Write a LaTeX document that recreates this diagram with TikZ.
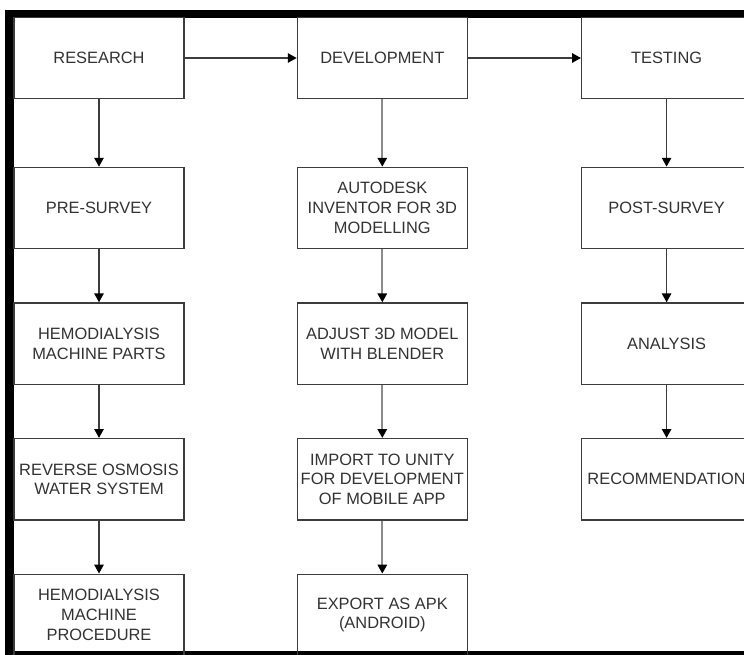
\documentclass[tikz,border=0pt]{standalone}
\usepackage{fontspec}
\setmainfont{Liberation Sans}
\usepackage{xcolor}
\usetikzlibrary{arrows.meta,positioning}
\definecolor{boxline}{RGB}{60, 60, 60}
\definecolor{textgray}{RGB}{50, 50, 50}
\definecolor{arrowgray}{RGB}{140, 140, 140}

\tikzset{
  stagebox/.style={draw=boxline,line width=1.1pt,minimum width=5.1cm,minimum height=2.44cm,
    inner sep=1pt,align=center,text=textgray,font=\fontsize{14}{16.8}\selectfont},
  flowarrow/.style={draw=boxline,line width=1.1pt,-{Triangle[width=8pt,length=7.5pt,color=black]}},
  softarrow/.style={flowarrow,draw=arrowgray,line width=1.5pt}
}

\begin{document}
\begin{tikzpicture}[x=0.03cm,y=-0.03cm]
    \useasboundingbox (0,0) rectangle (744,655);
    % outer frame
    \fill[black] (5,10) rectangle (744,18);
    \fill[black] (5,10) rectangle (14,655);
    \fill[black] (5,651) rectangle (744,655);

    % top row
    \node[stagebox] (research) at (99,58) {RESEARCH};
    \node[stagebox,right=3.36cm of research] (develop) {DEVELOPMENT};
    \node[stagebox,right=3.39cm of develop] (testing) {TESTING};

    % research column
    \node[stagebox,below=2.02cm of research] (presurvey) {PRE-SURVEY};
    \node[stagebox,below=1.59cm of presurvey] (parts) {HEMODIALYSIS\\MACHINE PARTS};
    \node[stagebox,below=1.59cm of parts] (osmosis) {REVERSE OSMOSIS\\WATER SYSTEM};
    \node[stagebox,below=1.59cm of osmosis] (procedure) {HEMODIALYSIS\\MACHINE\\PROCEDURE};

    % development column
    \node[stagebox,below=2.02cm of develop] (autodesk) {AUTODESK\\INVENTOR FOR 3D\\MODELLING};
    \node[stagebox,below=1.59cm of autodesk] (blender) {ADJUST 3D MODEL\\WITH BLENDER};
    \node[stagebox,below=1.59cm of blender] (unity) {IMPORT TO UNITY\\FOR DEVELOPMENT\\OF MOBILE APP};
    \node[stagebox,below=1.59cm of unity] (apk) {EXPORT AS APK\\(ANDROID)};

    % testing column
    \node[stagebox,below=2.02cm of testing] (postsurvey) {POST-SURVEY};
    \node[stagebox,below=1.59cm of postsurvey] (analysis) {ANALYSIS};
    \node[stagebox,below=1.59cm of analysis] (recommend) {RECOMMENDATION};

    % connectors
    \draw[flowarrow] (research) -- (develop);
    \draw[flowarrow] (develop) -- (testing);

    \draw[flowarrow] (research) -- (presurvey);
    \draw[flowarrow] (presurvey) -- (parts);
    \draw[flowarrow] (parts) -- (osmosis);
    \draw[flowarrow] (osmosis) -- (procedure);

    \draw[softarrow] (develop) -- (autodesk);
    \draw[softarrow] (autodesk) -- (blender);
    \draw[softarrow] (blender) -- (unity);
    \draw[softarrow] (unity) -- (apk);

    \draw[flowarrow] (testing) -- (postsurvey);
    \draw[flowarrow] (postsurvey) -- (analysis);
    \draw[flowarrow] (analysis) -- (recommend);
\end{tikzpicture}
\end{document}
